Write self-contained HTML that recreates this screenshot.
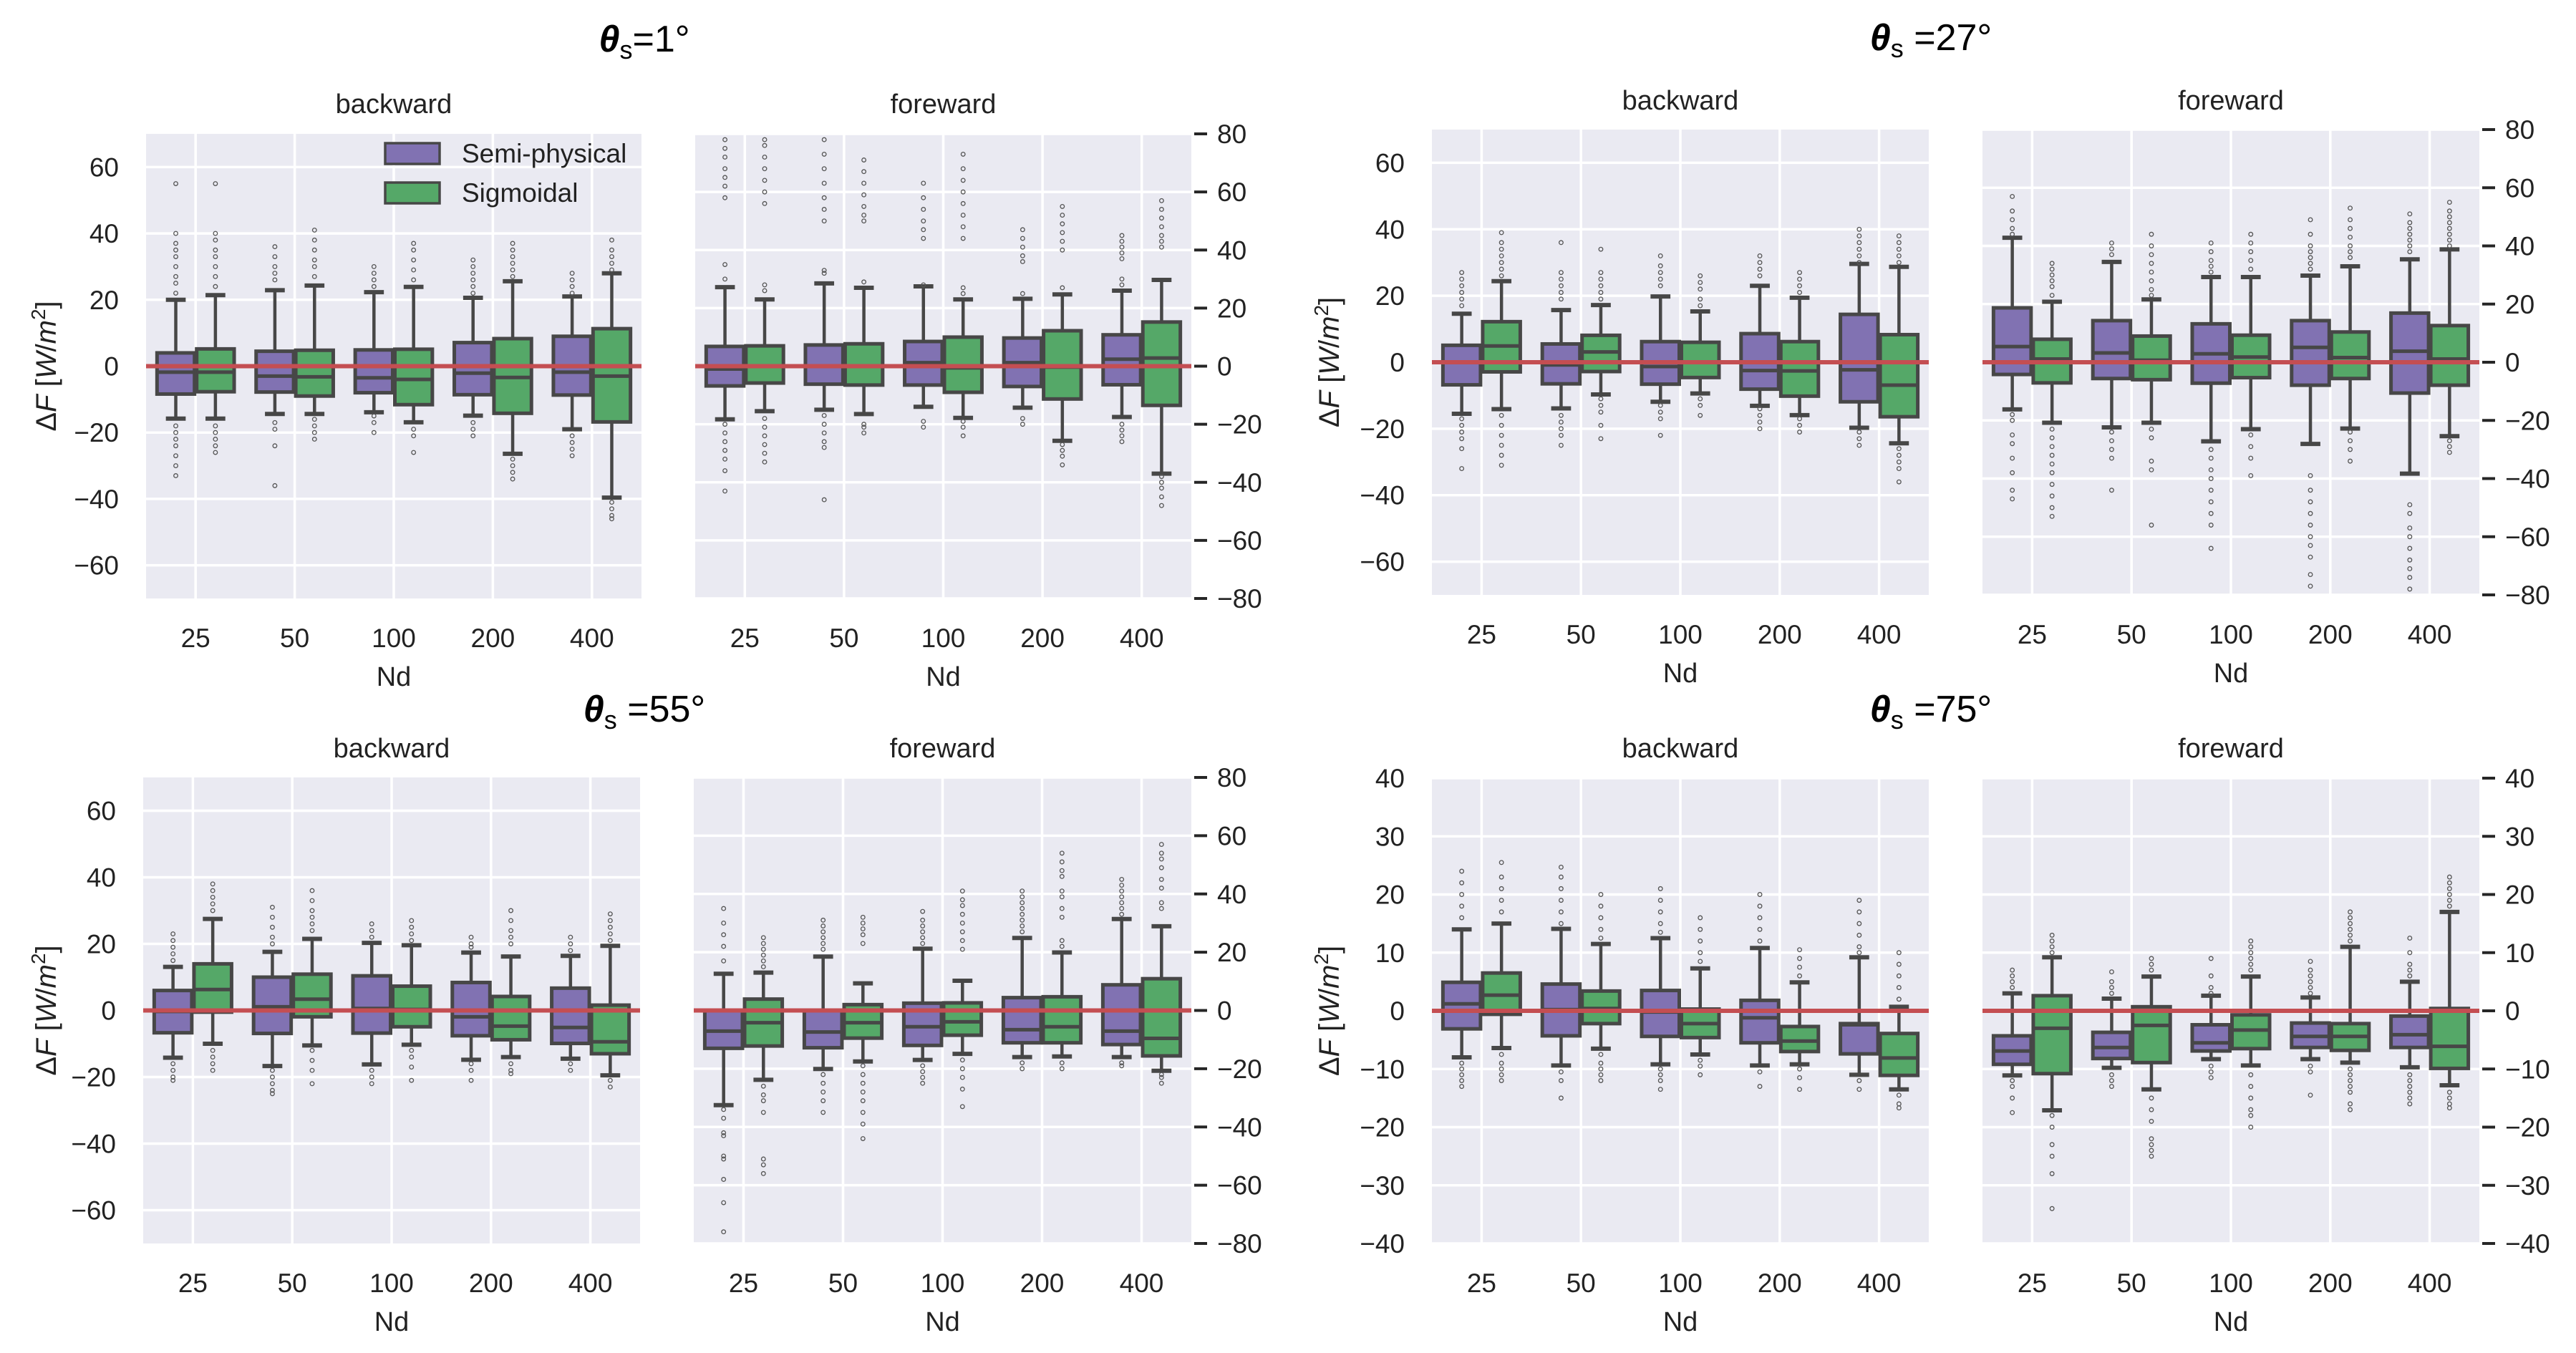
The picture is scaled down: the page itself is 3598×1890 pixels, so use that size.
<!DOCTYPE html>
<html><head><meta charset="utf-8">
<style>
html,body{margin:0;padding:0;background:#fff;}
svg{display:block;font-family:"Liberation Sans",sans-serif;}
</style></head>
<body>
<svg id="fig" width="3598" height="1890" viewBox="0 0 3598 1890" xmlns="http://www.w3.org/2000/svg">
  <g class="ttl"><text x="900" y="72" text-anchor="middle" font-size="52" fill="#000"><tspan font-weight="bold" font-style="italic">θ</tspan><tspan font-size="36" dy="10">s</tspan><tspan dy="-10">=1°</tspan></text></g>
  <g class="ttl"><text x="2697" y="70" text-anchor="middle" font-size="52" fill="#000"><tspan font-weight="bold" font-style="italic">θ</tspan><tspan font-size="36" dy="10">s</tspan><tspan dy="-10"> =27°</tspan></text></g>
  <g class="ttl"><text x="900" y="1008" text-anchor="middle" font-size="52" fill="#000"><tspan font-weight="bold" font-style="italic">θ</tspan><tspan font-size="36" dy="10">s</tspan><tspan dy="-10"> =55°</tspan></text></g>
  <g class="ttl"><text x="2697" y="1008" text-anchor="middle" font-size="52" fill="#000"><tspan font-weight="bold" font-style="italic">θ</tspan><tspan font-size="36" dy="10">s</tspan><tspan dy="-10"> =75°</tspan></text></g>
</svg>
<script>
// categories and hues
const categories = ["25","50","100","200","400"];
const hues = ["Semi-physical","Sigmoidal"];
// order in value arrays: [25P,25G,50P,50G,100P,100G,200P,200G,400P,400G]

// theta 1, backward
const a_q3  = [4,5.2,4.5,4.8,4.9,5.1,7.1,8.3,9,11.3];
const a_q1  = [-8.4,-7.7,-7.8,-9,-8,-11.6,-8.6,-14.2,-8.7,-16.8];
const a_med = [-1.8,-1.8,-3,-3.2,-3.5,-4,-2.1,-3.4,-1.8,-3];
const a_whi = [20,21.4,22.9,24.3,22.3,23.9,20.6,25.6,21,28];
const a_wlo = [-15.8,-15.8,-14.4,-14.4,-13.9,-16.9,-14.9,-26.4,-19,-39.6];
const a_fl = [[55,40,37,35,33,30,27,25,22,-18,-20,-22,-24,-27,-30,-33],[55,40,38,35,33,30,27,24,-18,-20,-22,-24,-26],[36,33,30,28,26,-17,-19,-24,-36],[41,38,35,32,30,27,-16,-18,-20,-22],[30,28,26,24,-15,-17,-20],[37,35,32,29,26,-19,-21,-26],[32,30,28,26,24,22,-17,-19,-21],[37,35,33,31,29,27,-28,-30,-32,-34],[28,26,24,22,-21,-23,-25,-27],[38,35,33,31,29,-41,-43,-45,-46]];

// theta 1, foreward
const b_q3  = [6.8,7,7.3,7.7,8.5,10,9.7,12.2,10.8,15.2];
const b_q1  = [-6.8,-5.8,-6.2,-6.5,-6.5,-9,-7,-11.3,-6.4,-13.5];
const b_med = [-1,0,0,0,1.2,-0.6,1.2,-0.3,2.4,2.8];
const b_whi = [27.2,23,28.5,27,27.5,23,23.2,24.7,26,29.7];
const b_wlo = [-18.3,-15.5,-15,-16.5,-14,-17.8,-14.3,-25.7,-17.5,-37];
const b_fl = [[78,75,72,68,65,62,58,35,30,-20,-23,-26,-29,-32,-36,-43],[78,76,72,68,64,60,56,28,26,-18,-21,-24,-27,-30,-33],[78,73,68,63,58,54,50,33,32,-17,-20,-23,-26,-28,-46],[71,67,63,59,55,52,50,29,-20,-21,-23],[63,58,54,50,47,44,28,-19,-21],[73,68,64,60,56,52,48,44,27,25,-19,-21,-24],[47,44,41,38,36,25,-18,-20],[55,52,49,46,43,40,27,-27,-29,-31,-34],[45,43,41,39,37,30,28,-20,-22,-24,-26],[57,54,51,48,45,43,41,-38,-40,-42,-45,-48]];

// theta 27, backward
const c_q3  = [5.1,12.2,5.5,8.1,6.2,6,8.6,6.2,14.4,8.3];
const c_q1  = [-6.8,-2.9,-6.5,-2.8,-6.6,-4.6,-8.1,-10.2,-11.9,-16.4];
const c_med = [0,4.9,-0.8,3.1,-1.3,0,-2.5,-2.6,-2.3,-6.9];
const c_whi = [14.6,24.4,15.7,17.2,19.8,15.3,23,19.4,29.6,28.7];
const c_wlo = [-15.5,-14.1,-13.9,-9.7,-11.9,-9.4,-13.1,-15.9,-19.7,-24.4];
const c_fl = [[27,25,23,21,19,17,-17,-19,-21,-23,-26,-32],[39,36,34,32,30,28,26,-16,-19,-22,-25,-28,-31],[36,27,25,23,21,19,-16,-18,-20,-22,-25],[34,27,25,23,21,19,-11,-13,-15,-19,-23],[32,29,27,25,23,-13,-15,-17,-22],[26,24,22,19,17,-11,-13,-16],[32,30,28,26,-14,-16,-18,-20],[27,25,23,21,-17,-19,-21],[40,38,36,34,32,30,-21,-23,-25],[38,36,34,32,30,-26,-28,-30,-32,-36]];

// theta 27, foreward
const d_q3  = [18.7,7.9,14.3,9,13.2,9.3,14.3,10.4,16.9,12.6];
const d_q1  = [-4.2,-7.1,-5.6,-6,-7.2,-5.3,-7.9,-5.6,-10.6,-7.9];
const d_med = [5.4,1.1,3.2,0.7,2.9,1.8,5.1,1.6,3.8,1.1];
const d_whi = [42.8,20.8,34.5,21.6,29.3,29.3,29.8,33,35.4,38.8];
const d_wlo = [-16.2,-20.8,-22.4,-20.8,-27.2,-23,-28.1,-22.8,-38.3,-25.4];
const d_fl = [[57,52,49,46,44,-18,-20,-25,-28,-33,-38,-44,-47],[34,32,30,28,26,23,-23,-26,-29,-32,-35,-38,-42,-46,-50,-53],[41,39,37,-24,-27,-30,-33,-44],[44,40,37,34,31,28,25,23,-23,-26,-34,-37,-56],[41,38,35,33,31,-30,-33,-37,-40,-44,-48,-52,-56,-64],[44,41,38,35,32,-25,-29,-33,-39],[49,44,40,38,36,34,32,-39,-44,-48,-52,-56,-60,-63,-67,-73,-77],[53,49,46,43,40,38,36,-24,-27,-30,-34],[51,48,46,44,42,40,38,-49,-52,-57,-60,-64,-68,-71,-74,-78],[55,52,50,48,46,44,42,40,-27,-29,-31]];

// theta 55, backward
const e_q3  = [6,14,10,10.9,10.4,7.3,8.4,4.2,6.7,1.6];
const e_q1  = [-6.7,-0.5,-6.9,-1.9,-6.8,-4.9,-7.6,-8.8,-9.9,-13];
const e_med = [-0.3,6.3,1.1,3.4,0.6,0.3,-1.9,-4.7,-5.1,-9.4];
const e_whi = [13.1,27.5,17.6,21.5,20.3,19.6,17.4,16.2,16.4,19.4];
const e_wlo = [-14.2,-10,-16.7,-10.5,-16.2,-10.3,-14.8,-14,-14.5,-19.5];
const e_fl = [[23,21,19,17,15,-16,-18,-20,-21],[38,36,34,32,30,-12,-14,-16,-18],[31,28,25,22,20,-18,-20,-22,-24,-25],[36,33,30,28,26,24,-12,-15,-18,-22],[26,24,22,-18,-20,-22],[27,25,23,21,-12,-14,-17,-21],[22,20,19,-16,-18,-21],[30,27,24,22,20,-16,-18,-19],[22,20,18,-16,-18],[29,27,25,23,21,-21,-23]];

// theta 55, foreward
const f_q3  = [0,3.9,0,2,2.5,2.6,4.4,4.7,8.8,10.9];
const f_q1  = [-13,-12.2,-12.8,-9.5,-12,-8.5,-11.1,-11.1,-11.7,-15.6];
const f_med = [-7.1,-4.2,-7.4,-4.2,-5.6,-3.9,-6.6,-5.6,-7.1,-9.6];
const f_whi = [12.6,13,18.5,9.3,21.2,10.2,24.9,19.9,31.4,28.9];
const f_wlo = [-32.5,-23.8,-20.1,-17.5,-17,-14.9,-16,-15.8,-16,-20.7];
const f_fl = [[35,30,26,22,17,-34,-37,-42,-43,-50,-51,-58,-66,-76],[25,23,21,19,17,15,-26,-29,-31,-35,-51,-53,-56],[31,29,27,25,23,21,-22,-25,-28,-31,-35],[32,30,28,26,23,-19,-22,-25,-28,-31,-35,-39,-44],[34,31,29,27,25,23,-19,-21,-23,-25],[41,38,36,33,30,27,24,21,-17,-20,-23,-27,-33],[41,39,37,35,33,31,29,27,-18,-20],[54,51,48,46,41,39,35,32,24,22,-18,-20],[45,43,41,39,37,35,33,-18,-19],[57,54,52,49,45,42,37,35,-22,-23,-25]];

// theta 75, backward
const g_q3  = [4.9,6.5,4.6,3.4,3.5,0.3,1.8,-2.7,-2.2,-3.9];
const g_q1  = [-3.1,-0.6,-4.3,-2.2,-4.4,-4.6,-5.5,-7,-7.4,-11.1];
const g_med = [1.2,2.7,0.2,0.4,-0.2,-2.2,-1.2,-5.2,-2.4,-8.1];
const g_whi = [14,15,14.1,11.5,12.5,7.3,10.8,4.9,9.2,0.7];
const g_wlo = [-8,-6.4,-9.4,-6.5,-9.2,-7.5,-9.4,-9.2,-11,-13.5];
const g_fl = [[24,22,20,18,16,-9,-10,-11,-12,-13],[25.5,23,21,19,17,-7.5,-9,-10,-11,-12],[24.7,23,21,19,17,15,-10.5,-12,-15],[20,18,16,14,12.5,-7.5,-9,-10,-11,-12],[21,19,17,15,13.5,-10,-11,-12,-13.5],[16,14,12,10,8.5,-8.5,-9.5,-11],[20,18,16,14,12,-10.5,-13],[10.5,9,7.5,6,-10,-11.5,-13.5],[19,17,15,13,11,10,-12,-13.5],[10,8,6,4,2,-14.5,-16,-16.7]];

// theta 75, foreward
const h_q3  = [-4.3,2.6,-3.7,0.7,-2.4,-0.7,-2.1,-2.2,-0.9,0.4];
const h_q1  = [-9.2,-10.8,-8.2,-8.9,-6.9,-6.5,-6.3,-6.8,-6.3,-9.9];
const h_med = [-6.9,-3,-6.3,-2.5,-5.5,-3.3,-4.4,-4.4,-4.1,-6.1];
const h_whi = [3,9.2,2.1,5.9,2.6,5.9,2.3,11,5,17];
const h_wlo = [-11.1,-17.1,-9.8,-13.5,-8.3,-9.4,-8.3,-8.9,-9.7,-12.8];
const h_fl = [[7,6,5,4,-12,-13,-15,-17.5],[13,12,11,10,-18,-20,-23,-25,-28,-34],[6.7,5,4,3,-11,-12,-13],[9,8,7,-15,-17,-19,-22,-23,-24,-25],[9,6,4,3,-9.5,-10.5,-11.5],[12,11,10,9,8,7,-11,-13,-15,-17,-18,-20],[8.5,7,6,5,4,3,-9.5,-10.5,-14.5],[17,16,15,14,13,12,-10,-11,-12,-13,-14,-16,-17],[12.5,10,8,7,6,-11,-12,-13,-14,-15,-16],[23,22,21,20,19,18,-14,-15,-16,-16.7]];

// tick labels
const ticksBack = [-60,-40,-20,0,20,40,60];
const ticksFore = [-80,-60,-40,-20,0,20,40,60,80];
const ticks75 = [-40,-30,-20,-10,0,10,20,30,40];

const NS = "http://www.w3.org/2000/svg";
const svg = document.getElementById("fig");
const PURPLE = "#8172b2", GREEN = "#55a868", EDGE = "#474747", RED = "#c44e52", BG = "#eaeaf2";

function mk(tag, attrs, parent) {
  const e = document.createElementNS(NS, tag);
  for (const k in attrs) e.setAttribute(k, attrs[k]);
  (parent || svg).appendChild(e);
  return e;
}
function fmt(v) { return v < 0 ? "\u2212" + Math.abs(v) : String(v); }

function drawPanel(p) {
  const g = mk("g", {});
  
  
  const x0 = p.x0, x1 = p.x1, y0 = p.y0, y1 = p.y1;
  const yScale = v => y0 + (p.ymax - v) / (p.ymax - p.ymin) * (y1 - y0);
  const cw = (x1 - x0) / categories.length;
  const xCat = i => x0 + cw * (i + 0.5);

  const bg = mk("rect", {x: x0, y: y0, width: x1 - x0, height: y1 - y0, fill: BG}, g);
  
  

  p.ticks.forEach(t => {
    const gy = yScale(t);
    const gl = mk("line", {x1: x0, x2: x1, y1: gy, y2: gy, stroke: "#fff", "stroke-width": 3.5}, g);
    
    
  });
  categories.forEach((c, i) => {
    const gl = mk("line", {x1: xCat(i), x2: xCat(i), y1: y0, y2: y1, stroke: "#fff", "stroke-width": 3.5}, g);
    
    
  });

  const bw = cw * 0.4;
  for (let i = 0; i < categories.length; i++) {
    for (let h = 0; h < 2; h++) {
      const k = i * 2 + h;
      const cx = xCat(i) + (h === 0 ? -bw / 2 : bw / 2);
      const bx = mk("g", {}, g);
      
      
      const capw = bw / 4;
      mk("line", {x1: cx, x2: cx, y1: yScale(p.q3[k]), y2: yScale(p.whi[k]), stroke: EDGE, "stroke-width": 4.5}, bx);
      mk("line", {x1: cx, x2: cx, y1: yScale(p.q1[k]), y2: yScale(p.wlo[k]), stroke: EDGE, "stroke-width": 4.5}, bx);
      mk("line", {x1: cx - capw, x2: cx + capw, y1: yScale(p.whi[k]), y2: yScale(p.whi[k]), stroke: EDGE, "stroke-width": 6}, bx);
      mk("line", {x1: cx - capw, x2: cx + capw, y1: yScale(p.wlo[k]), y2: yScale(p.wlo[k]), stroke: EDGE, "stroke-width": 6}, bx);
      mk("rect", {x: cx - bw / 2 + 1.5, y: yScale(p.q3[k]), width: bw - 3, height: yScale(p.q1[k]) - yScale(p.q3[k]), fill: h === 0 ? PURPLE : GREEN, stroke: EDGE, "stroke-width": 5}, bx);
      mk("line", {x1: cx - bw / 2 + 1.5, x2: cx + bw / 2 - 1.5, y1: yScale(p.med[k]), y2: yScale(p.med[k]), stroke: EDGE, "stroke-width": 5}, bx);
      p.fl[k].forEach(v => {
        const c = mk("circle", {cx: cx, cy: yScale(v), r: 2.8, fill: "none", stroke: "#555", "stroke-width": 1.3}, bx);
        
        
      });
    }
  }
  const rl = mk("line", {x1: x0, x2: x1, y1: yScale(0), y2: yScale(0), stroke: RED, "stroke-width": 6}, g);
  
  

  const st = mk("text", {x: (x0 + x1) / 2, y: p.titleY, "text-anchor": "middle", "font-size": 38, fill: "#222"}, g);
  st.textContent = p.title;
  
  

  categories.forEach((c, i) => {
    const t = mk("text", {x: xCat(i), y: p.xtickY, "text-anchor": "middle", "font-size": 37, fill: "#222"}, g);
    t.textContent = c;
    
    
  });
  const xl = mk("text", {x: (x0 + x1) / 2, y: p.xtickY + 54, "text-anchor": "middle", "font-size": 38, fill: "#222"}, g);
  xl.textContent = "Nd";
  
  

  p.ticks.forEach(t => {
    const ty = yScale(t);
    if (p.side === "left") {
      const lab = mk("text", {x: x0 - 38, y: ty + 13, "text-anchor": "end", "font-size": 37, fill: "#222"}, g);
      lab.textContent = fmt(t);
      
      
    } else {
      const tm = mk("line", {x1: x1 + 4, x2: x1 + 22, y1: ty, y2: ty, stroke: "#262626", "stroke-width": 4}, g);
      
      
      const lab = mk("text", {x: x1 + 36, y: ty + 13, "text-anchor": "start", "font-size": 37, fill: "#222"}, g);
      lab.textContent = fmt(t);
      
      
    }
  });
  if (p.side === "left") {
    const cy = (y0 + y1) / 2;
    const yl = mk("text", {x: p.ylabelX, y: cy, "text-anchor": "middle", "font-size": 40, fill: "#222", transform: "rotate(-90 " + p.ylabelX + " " + cy + ")"}, g);
    
    
    yl.innerHTML = 'Δ<tspan font-style="italic">F</tspan> [<tspan font-style="italic">W</tspan>/<tspan font-style="italic">m</tspan><tspan font-size="28" dy="-15">2</tspan><tspan dy="15">]</tspan>';
  }
}

const panels = [
  {name:"panel-theta1-backward", x0:204,x1:896,y0:187,y1:836,ymin:-70,ymax:70,ticks:ticksBack,side:"left",title:"backward",titleY:158,xtickY:904,ylabelX:78,q3:a_q3,q1:a_q1,med:a_med,whi:a_whi,wlo:a_wlo,fl:a_fl},
  {name:"panel-theta1-foreward", x0:971,x1:1664,y0:187,y1:836,ymin:-80,ymax:80,ticks:ticksFore,side:"right",title:"foreward",titleY:158,xtickY:904,q3:b_q3,q1:b_q1,med:b_med,whi:b_whi,wlo:b_wlo,fl:b_fl},
  {name:"panel-theta27-backward", x0:2000,x1:2694,y0:181,y1:831,ymin:-70,ymax:70,ticks:ticksBack,side:"left",title:"backward",titleY:153,xtickY:899,ylabelX:1870,q3:c_q3,q1:c_q1,med:c_med,whi:c_whi,wlo:c_wlo,fl:c_fl},
  {name:"panel-theta27-foreward", x0:2769,x1:3463,y0:181,y1:831,ymin:-80,ymax:80,ticks:ticksFore,side:"right",title:"foreward",titleY:153,xtickY:899,q3:d_q3,q1:d_q1,med:d_med,whi:d_whi,wlo:d_wlo,fl:d_fl},
  {name:"panel-theta55-backward", x0:200,x1:894,y0:1086,y1:1737,ymin:-70,ymax:70,ticks:ticksBack,side:"left",title:"backward",titleY:1058,xtickY:1805,ylabelX:78,q3:e_q3,q1:e_q1,med:e_med,whi:e_whi,wlo:e_wlo,fl:e_fl},
  {name:"panel-theta55-foreward", x0:969,x1:1664,y0:1086,y1:1737,ymin:-80,ymax:80,ticks:ticksFore,side:"right",title:"foreward",titleY:1058,xtickY:1805,q3:f_q3,q1:f_q1,med:f_med,whi:f_whi,wlo:f_wlo,fl:f_fl},
  {name:"panel-theta75-backward", x0:2000,x1:2694,y0:1087,y1:1737,ymin:-40,ymax:40,ticks:ticks75,side:"left",title:"backward",titleY:1058,xtickY:1805,ylabelX:1870,q3:g_q3,q1:g_q1,med:g_med,whi:g_whi,wlo:g_wlo,fl:g_fl},
  {name:"panel-theta75-foreward", x0:2769,x1:3463,y0:1087,y1:1737,ymin:-40,ymax:40,ticks:ticks75,side:"right",title:"foreward",titleY:1058,xtickY:1805,q3:h_q3,q1:h_q1,med:h_med,whi:h_whi,wlo:h_wlo,fl:h_fl}
];
panels.forEach(drawPanel);

// legend
const lg = mk("g", {});


[["Semi-physical", PURPLE, 200], ["Sigmoidal", GREEN, 255]].forEach(([lab, col, y]) => {
  const e = mk("g", {}, lg);
  
  
  mk("rect", {x: 538, y: y, width: 76, height: 29, fill: col, stroke: EDGE, "stroke-width": 3.5}, e);
  const t = mk("text", {x: 645, y: y + 27, "font-size": 37, fill: "#222"}, e);
  t.textContent = lab;
});

// bring figure titles to front
document.querySelectorAll("g.ttl").forEach(t => svg.appendChild(t));
</script>
</body></html>
